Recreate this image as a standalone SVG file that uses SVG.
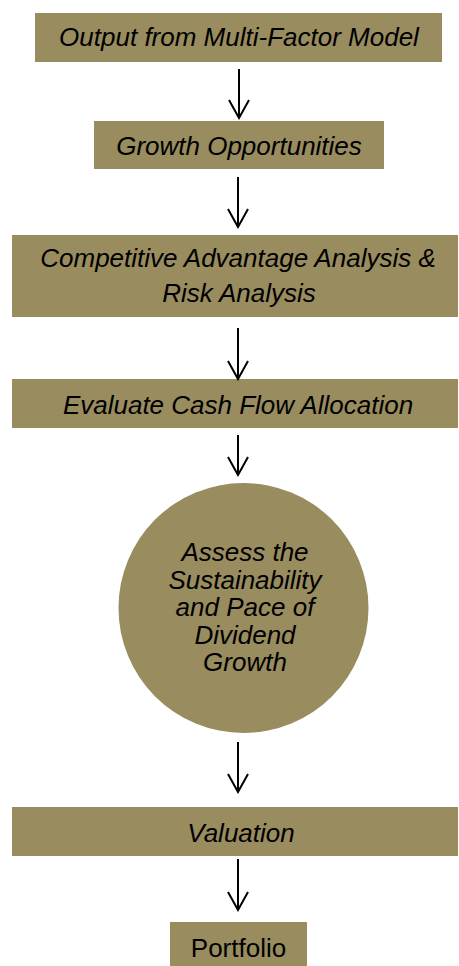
<svg xmlns="http://www.w3.org/2000/svg" width="459" height="966" viewBox="0 0 459 966">
<style>
.box{fill:#998C5E;}
.t{font-family:"Liberation Sans",Arial,sans-serif;font-size:26px;font-style:italic;fill:#000;text-anchor:middle;}
.n{font-style:normal;}
.c{fill:none;stroke:#000;stroke-width:2;}
</style>
<defs>
<marker id="ah" markerUnits="userSpaceOnUse" markerWidth="24" markerHeight="24" viewBox="-22 -12 24 24" refX="0" refY="0" orient="auto">
<path d="M-18,-10 L0,0 L-18,10" fill="none" stroke="#000" stroke-width="2"/>
</marker>
</defs>
<rect width="459" height="966" fill="#fff"/>
<g id="n1"><rect class="box" x="35" y="13" width="407" height="49"/><text class="t" x="239" y="46">Output from Multi-Factor Model</text></g>
<g id="n2"><rect class="box" x="94" y="121" width="290" height="48"/><text class="t" x="239" y="155">Growth Opportunities</text></g>
<g id="n3"><rect class="box" x="12" y="235" width="446" height="82"/><text class="t" x="238" y="267">Competitive Advantage Analysis &amp;</text><text class="t" x="239" y="302">Risk Analysis</text></g>
<g id="n4"><rect class="box" x="12" y="379" width="446" height="49"/><text class="t" x="238" y="414">Evaluate Cash Flow Allocation</text></g>
<g id="n5"><circle class="box" cx="243.5" cy="608" r="125"/><text class="t" x="245" y="561">Assess the</text><text class="t" x="245" y="588.5">Sustainability</text><text class="t" x="245" y="616">and Pace of</text><text class="t" x="245" y="643.5">Dividend</text><text class="t" x="245" y="671">Growth</text></g>
<g id="n6"><rect class="box" x="12" y="807" width="446" height="49"/><text class="t" x="241" y="842">Valuation</text></g>
<g id="n7"><rect class="box" x="170" y="922" width="137" height="44"/><text class="t n" x="238.5" y="957">Portfolio</text></g>
<g id="connectors">
<path class="c" d="M239,69 V118" marker-end="url(#ah)"/>
<path class="c" d="M238,177 V227" marker-end="url(#ah)"/>
<path class="c" d="M238,328 V379" marker-end="url(#ah)"/>
<path class="c" d="M238,435 V475" marker-end="url(#ah)"/>
<path class="c" d="M238,742 V792" marker-end="url(#ah)"/>
<path class="c" d="M238,859 V910" marker-end="url(#ah)"/>
</g>
</svg>
